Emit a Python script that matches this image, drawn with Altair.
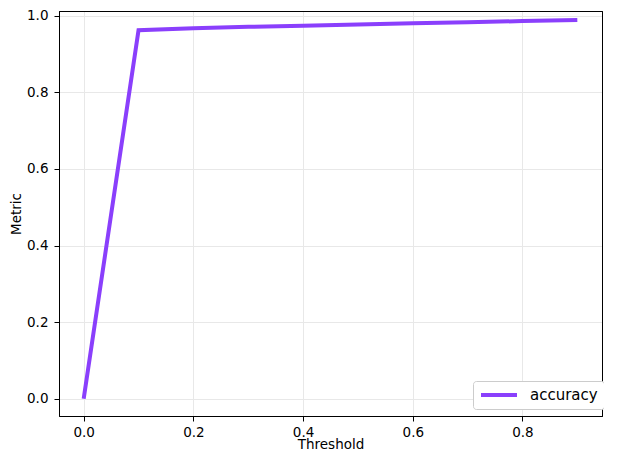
import altair as alt
import pandas as pd

thresholds = [0.0, 0.1, 0.2, 0.3, 0.4, 0.5, 0.6, 0.7, 0.8, 0.9]
accuracy = [0.0, 0.962, 0.967, 0.971, 0.974, 0.977, 0.980, 0.983, 0.986, 0.989]
series_name = ["accuracy"] * len(thresholds)

df = pd.DataFrame({"Threshold": thresholds, "Metric": accuracy, "series": series_name})

FONT = "DejaVu Sans"
FS = 13.5

xscale = alt.Scale(domain=[-0.045, 0.945], nice=False, zero=False)
yscale = alt.Scale(domain=[-0.0449, 1.0123], nice=False, zero=False)

base = alt.Chart(df)

main = base.mark_line(strokeWidth=4, strokeCap="butt").encode(
    x=alt.X("Threshold:Q", scale=xscale,
            axis=alt.Axis(values=[0.0, 0.2, 0.4, 0.6, 0.8], format=".1f", title="Threshold",
                          tickSize=5, labelPadding=4, titlePadding=-1, grid=True)),
    y=alt.Y("Metric:Q", scale=yscale,
            axis=alt.Axis(values=[0.0, 0.2, 0.4, 0.6, 0.8, 1.0], format=".1f", title="Metric",
                          tickSize=5, labelPadding=6, titlePadding=3, grid=True)),
    color=alt.Color("series:N",
                    scale=alt.Scale(domain=["accuracy"], range=["#8a3ffc"]),
                    legend=alt.Legend(title=None, orient="none", legendX=414, legendY=370,
                                      symbolType="stroke", symbolSize=1296, symbolStrokeWidth=4,
                                      clipHeight=16,
                                      labelFont=FONT, labelFontSize=15, labelColor="black",
                                      fillColor="white", strokeColor="#cccccc", cornerRadius=3,
                                      padding=6, labelOffset=11)),
)

frame = base.mark_line(opacity=0).encode(
    x=alt.X("Threshold:Q", scale=xscale,
            axis=alt.Axis(orient="top", labels=False, ticks=False, grid=False, title=None,
                          domainColor="black")),
    y=alt.Y("Metric:Q", scale=yscale,
            axis=alt.Axis(orient="right", labels=False, ticks=False, grid=False, title=None,
                          domainColor="black")),
)

chart = alt.layer(main, frame).resolve_axis(
    x="independent", y="independent"
).properties(
    width=543, height=405,
    autosize=alt.AutoSizeParams(type="none"),
    padding={"left": 51, "top": 3, "right": 2, "bottom": 34},
).configure_view(
    stroke="black", strokeWidth=1
).configure_axis(
    labelFont=FONT, labelFontSize=FS, labelColor="black",
    titleFont=FONT, titleFontSize=FS, titleColor="black", titleFontWeight="normal",
    domainColor="black", tickColor="black", domainWidth=1, tickWidth=1,
    gridColor="#e8e8e8", gridWidth=1,
)

chart.save("out.html", embed_options={"renderer": "svg", "actions": False})
